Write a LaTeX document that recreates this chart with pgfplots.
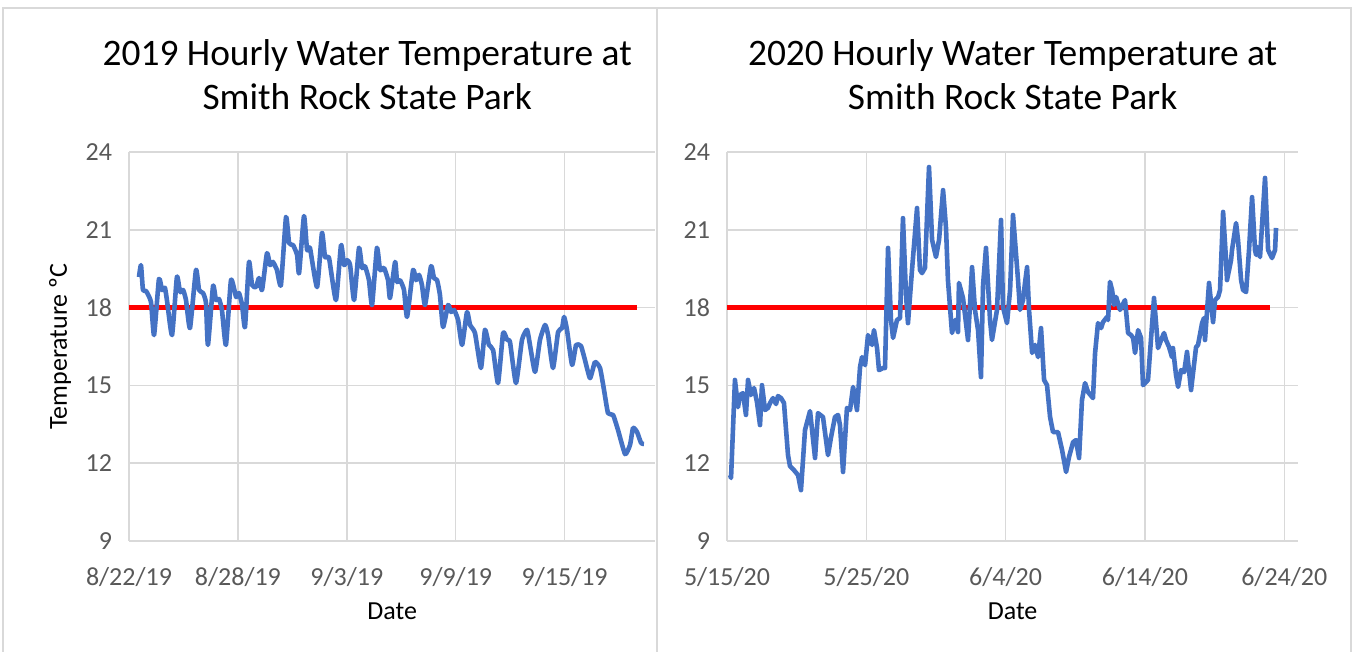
\documentclass[border=0pt]{standalone}
\usepackage{fontspec}
\setmainfont{Carlito}
\usepackage{pgfplots}
\pgfplotsset{compat=1.18}
\definecolor{lineblue}{HTML}{4472C4}
\definecolor{gridgray}{HTML}{D9D9D9}
\definecolor{tickgray}{HTML}{595959}
\pgfplotsset{
  excelstyle/.style={
    scale only axis,
    height=194.5pt,
    ymin=9, ymax=24,
    ytick={9,12,15,18,21,24},
    grid=major,
    major grid style={draw=gridgray, line width=0.75pt},
    axis line style={draw=none},
    major tick length=0pt,
    tick label style={font=\fontsize{13}{15}\selectfont, text=tickgray},
    /pgf/number format/assume math mode=true,
    xticklabel style={anchor=center, yshift=-18pt},
    yticklabel style={anchor=east, xshift=-5pt},
    title style={anchor=center, align=center, font=\fontsize{18.7}{22}\selectfont},
    label style={font=\fontsize{13}{15}\selectfont},
    xlabel style={at={([yshift=-35pt]axis description cs:0.5,0)}, anchor=center},
    ylabel style={at={([xshift=-34.5pt]axis description cs:0,0.5)}, anchor=center},
    clip=false,
  }
}
\begin{document}
\begin{tikzpicture}
\useasboundingbox (0,0) rectangle (678pt,326pt);
\draw[gridgray, line width=0.75pt] (1.5pt,0) -- (1.5pt,322pt) -- (675.5pt,322pt) -- (675.5pt,0);
\draw[gridgray, line width=0.75pt] (328.5pt,0) -- (328.5pt,322pt);
\begin{axis}[excelstyle,
  at={(64.5pt,55.5pt)}, anchor=south west,
  width=263.2pt,
  xmin=0, xmax=29,
  xtick={0,6,12,18,24},
  xticklabels={8/22/19,8/28/19,9/3/19,9/9/19,9/15/19},
  title={2019 Hourly Water Temperature at\\Smith Rock State Park},
  title style={at={([yshift=32.5pt,xshift=-12.5pt]axis description cs:0.5,1)}},
  xlabel={Date},
  ylabel={Temperature ºC},
]
\addplot[red, line width=2.3pt] coordinates {(0,18) (28,18)};
\addplot[lineblue, line width=2.3pt, line join=round, smooth, tension=0.3] coordinates {
(0.55,19.18) (0.66,19.64) (0.77,18.68) (0.94,18.64) (1.21,18.22) (1.38,16.94)
(1.65,19.10) (1.82,18.68) (1.98,18.76) (2.09,18.29) (2.37,16.94)
(2.64,19.18) (2.81,18.60) (2.98,18.68) (3.14,18.29) (3.36,17.21)
(3.69,19.45) (3.86,18.68) (4.08,18.56) (4.24,18.18) (4.35,16.56)
(4.63,18.83) (4.79,18.29) (4.96,18.33) (5.12,17.91) (5.34,16.56)
(5.62,19.06) (5.90,18.41) (6.06,18.56) (6.23,18.10) (6.39,17.25)
(6.61,19.76) (6.78,18.87) (7.00,18.79) (7.16,19.14) (7.33,18.68)
(7.60,20.10) (7.77,19.64) (7.93,19.76) (8.15,19.45) (8.37,18.87)
(8.65,21.49) (8.82,20.49) (9.04,20.41) (9.26,20.03) (9.37,19.33)
(9.64,21.53) (9.81,20.22) (9.97,20.30) (10.36,18.79)
(10.63,20.88) (10.80,19.95) (11.02,19.91) (11.40,18.29)
(11.68,20.41) (11.85,19.64) (12.01,19.83) (12.18,19.64) (12.40,18.29)
(12.67,20.30) (12.84,19.53) (13.00,19.60) (13.22,19.06) (13.39,18.10)
(13.66,20.30) (13.83,19.45) (14.05,19.53) (14.27,19.06) (14.38,18.37)
(14.66,19.76) (14.77,18.99) (14.93,19.06) (15.15,18.68) (15.32,17.64)
(15.65,19.45) (15.81,19.06) (15.98,19.26) (16.14,18.87) (16.31,18.10)
(16.64,19.60) (16.80,19.14) (16.97,19.06) (17.13,18.49) (17.30,17.25)
(17.58,18.10) (17.74,17.83) (17.91,17.91) (18.13,17.52) (18.35,16.56)
(18.62,17.83) (18.79,17.33) (19.06,17.02) (19.39,15.67)
(19.61,17.14) (19.83,16.56) (20.06,16.36) (20.33,15.09)
(20.61,17.02) (20.83,16.75) (20.99,16.67) (21.32,15.09)
(21.65,16.75) (21.93,17.14) (22.09,16.56) (22.37,15.52)
(22.64,16.75) (22.92,17.33) (23.09,16.94) (23.36,15.67)
(23.64,17.06) (23.86,17.21) (23.97,17.64) (24.13,17.14) (24.41,15.79)
(24.63,16.56) (24.90,16.52) (25.12,15.98) (25.40,15.28)
(25.67,15.90) (25.95,15.67) (26.17,14.82) (26.39,13.93) (26.67,13.86)
(26.94,13.28) (27.33,12.35) (27.60,12.70) (27.77,13.36) (27.99,13.20)
(28.21,12.78) (28.37,12.74)
};
\end{axis}
\begin{axis}[excelstyle,
  at={(363.5pt,55.5pt)}, anchor=south west,
  width=285.6pt,
  xmin=0, xmax=41,
  xtick={0,10,20,30,40},
  xticklabels={5/15/20,5/25/20,6/4/20,6/14/20,6/24/20},
  title={2020 Hourly Water Temperature at\\Smith Rock State Park},
  title style={at={([yshift=32.5pt]axis description cs:0.5,1)}},
  xlabel={Date},
]
\addplot[red, line width=2.3pt] coordinates {(0,18) (39,18)};
\addplot[lineblue, line width=2.3pt, line join=round] coordinates {
(0.22,11.54) (0.29,11.43) (0.57,15.21) (0.79,14.16) (0.93,14.63) (1.15,14.70)
(1.36,13.86) (1.51,15.21) (1.72,14.63) (1.94,14.90) (2.15,14.36) (2.37,13.47)
(2.51,15.01) (2.73,14.05) (2.94,14.13) (3.09,14.32) (3.30,14.51) (3.52,14.28)
(3.66,14.59) (3.88,14.51) (4.09,14.32) (4.24,13.28) (4.38,12.31) (4.52,11.89)
(4.81,11.73) (5.10,11.54) (5.31,10.96) (5.60,13.28) (5.96,14.01) (6.32,12.20)
(6.53,13.93) (6.89,13.78) (7.25,12.31) (7.47,13.01) (7.75,13.78) (7.97,13.86)
(8.11,13.47) (8.33,11.66) (8.61,14.13) (8.83,14.05) (9.05,14.94) (9.33,14.05)
(9.55,15.71) (9.69,16.09) (9.91,15.78) (10.12,16.94) (10.41,16.56) (10.55,17.13)
(10.77,16.44) (10.91,15.59) (11.20,15.67) (11.34,15.67) (11.56,20.30) (11.77,17.52)
(11.92,16.83) (12.20,17.52) (12.42,17.60) (12.63,21.45) (12.85,18.48) (12.99,17.40)
(13.28,19.45) (13.64,21.84) (13.85,19.45) (14.00,19.33) (14.21,19.53) (14.50,23.42)
(14.72,20.61) (15.00,19.95) (15.22,20.61) (15.51,22.53) (15.72,21.07) (15.86,19.06)
(16.15,17.02) (16.37,17.52) (16.58,17.06) (16.65,18.95) (16.94,18.37) (17.30,16.75)
(17.59,19.56) (17.80,17.91) (18.02,17.13) (18.23,15.32) (18.38,18.87) (18.59,20.30)
(18.88,17.52) (19.02,16.75) (19.38,17.91) (19.67,21.38) (19.81,18.02) (20.10,17.40)
(20.32,18.68) (20.53,21.57) (20.89,19.06) (21.03,17.91) (21.25,18.29) (21.39,18.95)
(21.54,19.56) (21.68,17.91) (21.90,16.25) (22.11,16.56) (22.33,16.09) (22.54,17.21)
(22.76,15.21) (22.97,15.01) (23.19,13.78) (23.40,13.20) (23.76,13.20) (24.05,12.51)
(24.34,11.66) (24.55,12.24) (24.84,12.81) (25.05,12.89) (25.27,12.20) (25.48,14.43)
(25.70,15.09) (25.92,14.74) (26.27,14.51) (26.42,16.25) (26.63,17.40) (26.85,17.21)
(26.99,17.44) (27.28,17.64) (27.35,17.52) (27.49,18.99) (27.64,18.68) (27.78,18.10)
(27.93,18.41) (28.21,17.91) (28.57,18.29) (28.79,17.02) (29.00,16.94) (29.15,16.83)
(29.29,16.25) (29.51,17.13) (29.72,16.83) (29.86,15.01) (30.22,15.21) (30.65,18.37)
(30.94,16.44) (31.16,16.75) (31.37,17.02) (31.51,16.75) (31.73,16.48) (31.94,16.09)
(32.01,16.44) (32.23,15.40) (32.38,14.94) (32.59,15.59) (32.81,15.51) (33.02,16.29)
(33.31,14.82) (33.67,16.48) (33.81,16.56) (34.10,17.40) (34.24,17.60) (34.31,16.75)
(34.60,18.95) (34.89,17.44) (35.03,18.29) (35.25,18.41) (35.39,18.68) (35.61,21.69)
(35.82,19.83) (35.89,19.06) (36.18,19.83) (36.25,20.22) (36.54,21.26) (36.68,20.61)
(36.90,19.06) (37.04,18.68) (37.26,18.60) (37.47,20.22) (37.69,22.26) (37.90,20.22)
(37.98,20.03) (38.05,20.34) (38.26,19.95) (38.62,23.00) (38.84,20.22) (39.12,19.91)
(39.34,20.22) (39.41,21.07)
};
\end{axis}
\end{tikzpicture}
\end{document}
